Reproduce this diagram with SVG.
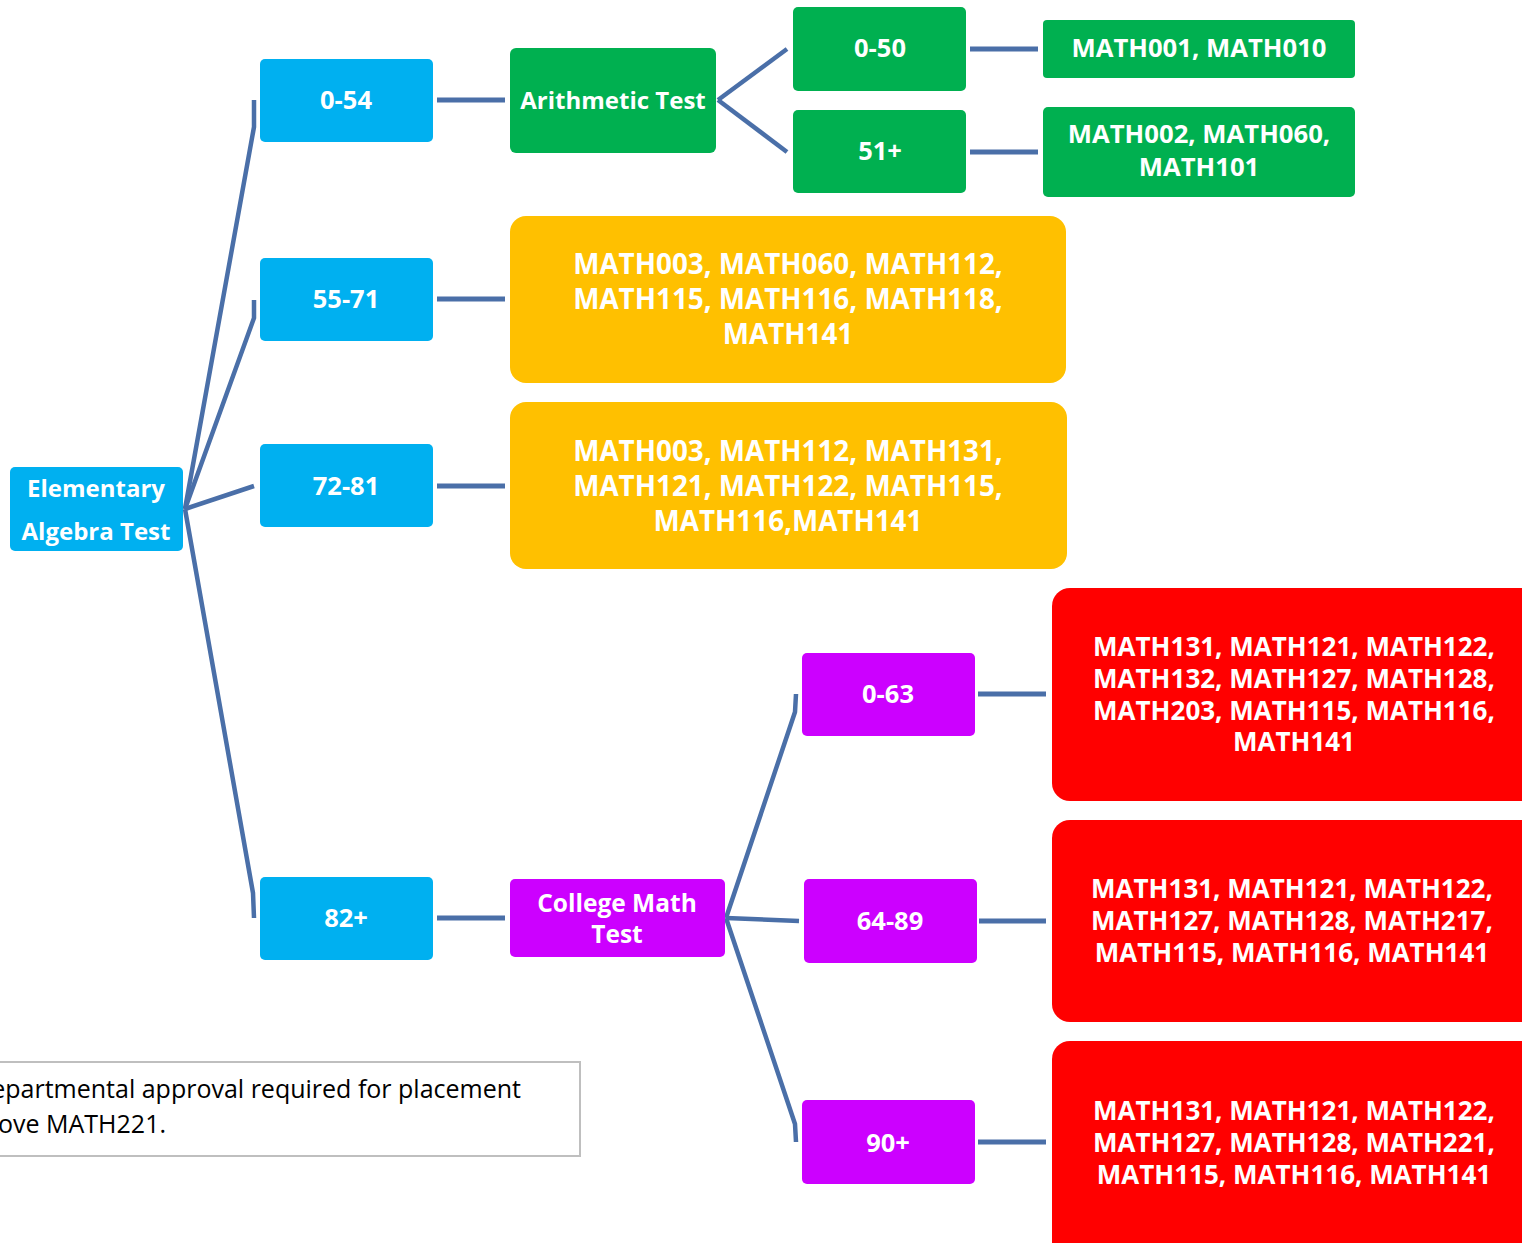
<svg xmlns="http://www.w3.org/2000/svg" width="1522" height="1243" viewBox="0 0 1522 1243">
<style>
.lbl{font-family:"Open Sans","Noto Sans","Liberation Sans",sans-serif;font-weight:bold;fill:#ffffff;text-anchor:middle}
.blue{fill:#00B0F0}
.green{fill:#00B050}
.yellow{fill:#FFC000}
.red{fill:#FF0000}
.purple{fill:#CC00FF}
.con{fill:none;stroke:#4A6FA8;stroke-width:4.5;stroke-linejoin:round}
.hcon{fill:none;stroke:#4A6FA8;stroke-width:5}
.note{font-family:"Open Sans","Noto Sans","Liberation Sans",sans-serif;font-size:25px;fill:#000000}
</style>
<rect width="1522" height="1243" fill="#ffffff"/>
<g id="connectors">
<polyline class="con" points="185,509 254,127 254,100"/>
<polyline class="con" points="185,509 254,318 254,300"/>
<polyline class="con" points="185,509 254,486"/>
<polyline class="con" points="185,509 253,893 254,918"/>
<polyline class="con" points="718,100 787,49"/>
<polyline class="con" points="718,100 787,152"/>
<polyline class="con" points="726,918 795,712 796,694"/>
<polyline class="con" points="726,918 799,921"/>
<polyline class="con" points="726,918 795,1124 796,1142"/>
<line class="hcon" x1="437" y1="100" x2="505" y2="100"/>
<line class="hcon" x1="437" y1="299" x2="505" y2="299"/>
<line class="hcon" x1="437" y1="486" x2="505" y2="486"/>
<line class="hcon" x1="437" y1="918" x2="505" y2="918"/>
<line class="hcon" x1="970" y1="49" x2="1038" y2="49"/>
<line class="hcon" x1="970" y1="152" x2="1038" y2="152"/>
<line class="hcon" x1="978" y1="694" x2="1046" y2="694"/>
<line class="hcon" x1="979" y1="921" x2="1046" y2="921"/>
<line class="hcon" x1="978" y1="1142" x2="1046" y2="1142"/>
</g>
<g id="elementary">
<rect class="blue" x="10" y="467" width="173" height="84" rx="5"/>
<text class="lbl" x="96" y="497" font-size="24">Elementary</text>
<text class="lbl" x="96" y="540" font-size="24">Algebra Test</text>
</g>
<g id="n0-54">
<rect class="blue" x="260" y="59" width="173" height="83" rx="5"/>
<text class="lbl" x="346" y="109" font-size="25.5">0-54</text>
</g>
<g id="n55-71">
<rect class="blue" x="260" y="258" width="173" height="83" rx="5"/>
<text class="lbl" x="346" y="308" font-size="25.5">55-71</text>
</g>
<g id="n72-81">
<rect class="blue" x="260" y="444" width="173" height="83" rx="5"/>
<text class="lbl" x="346" y="495" font-size="25.5">72-81</text>
</g>
<g id="n82plus">
<rect class="blue" x="260" y="877" width="173" height="83" rx="5"/>
<text class="lbl" x="346" y="927" font-size="25.5">82+</text>
</g>
<g id="arithmetic">
<rect class="green" x="510" y="48" width="206" height="105" rx="6"/>
<text class="lbl" x="613" y="109" font-size="24">Arithmetic Test</text>
</g>
<g id="a0-50">
<rect class="green" x="793" y="7" width="173" height="84" rx="5"/>
<text class="lbl" x="880" y="57" font-size="25.5">0-50</text>
</g>
<g id="a51plus">
<rect class="green" x="793" y="110" width="173" height="83" rx="5"/>
<text class="lbl" x="880" y="160" font-size="25.5">51+</text>
</g>
<g id="math001">
<rect class="green" x="1043" y="20" width="312" height="58" rx="4"/>
<text class="lbl" x="1199" y="57" font-size="25.7">MATH001, MATH010</text>
</g>
<g id="math002">
<rect class="green" x="1043" y="107" width="312" height="90" rx="5"/>
<text class="lbl" x="1199" y="143" font-size="25.7">MATH002, MATH060,</text>
<text class="lbl" x="1199" y="176" font-size="25.7">MATH101</text>
</g>
<g id="yellow1">
<rect class="yellow" x="510" y="216" width="556" height="167" rx="16"/>
<text class="lbl" x="788" y="274" font-size="27.8">MATH003, MATH060, MATH112,</text>
<text class="lbl" x="788" y="309" font-size="27.8">MATH115, MATH116, MATH118,</text>
<text class="lbl" x="788" y="344" font-size="27.8">MATH141</text>
</g>
<g id="yellow2">
<rect class="yellow" x="510" y="402" width="557" height="167" rx="16"/>
<text class="lbl" x="788" y="461" font-size="27.8">MATH003, MATH112, MATH131,</text>
<text class="lbl" x="788" y="496" font-size="27.8">MATH121, MATH122, MATH115,</text>
<text class="lbl" x="788" y="531" font-size="27.8">MATH116,MATH141</text>
</g>
<g id="college">
<rect class="purple" x="510" y="879" width="215" height="78" rx="5"/>
<text class="lbl" x="617" y="912" font-size="24.5">College Math</text>
<text class="lbl" x="617" y="943" font-size="24.5">Test</text>
</g>
<g id="c0-63">
<rect class="purple" x="802" y="653" width="173" height="83" rx="5"/>
<text class="lbl" x="888" y="703" font-size="25.5">0-63</text>
</g>
<g id="c64-89">
<rect class="purple" x="804" y="879" width="173" height="84" rx="5"/>
<text class="lbl" x="890" y="930" font-size="25.5">64-89</text>
</g>
<g id="c90plus">
<rect class="purple" x="802" y="1100" width="173" height="84" rx="5"/>
<text class="lbl" x="888" y="1152" font-size="25.5">90+</text>
</g>
<g id="red1">
<rect class="red" x="1052" y="588" width="490" height="213" rx="18"/>
<text class="lbl" x="1294" y="656" font-size="26">MATH131, MATH121, MATH122,</text>
<text class="lbl" x="1294" y="688" font-size="26">MATH132, MATH127, MATH128,</text>
<text class="lbl" x="1294" y="720" font-size="26">MATH203, MATH115, MATH116,</text>
<text class="lbl" x="1294" y="751" font-size="26">MATH141</text>
</g>
<g id="red2">
<rect class="red" x="1052" y="820" width="490" height="202" rx="18"/>
<text class="lbl" x="1292" y="898" font-size="26">MATH131, MATH121, MATH122,</text>
<text class="lbl" x="1292" y="930" font-size="26">MATH127, MATH128, MATH217,</text>
<text class="lbl" x="1292" y="962" font-size="26">MATH115, MATH116, MATH141</text>
</g>
<g id="red3">
<rect class="red" x="1052" y="1041" width="490" height="220" rx="18"/>
<text class="lbl" x="1294" y="1120" font-size="26">MATH131, MATH121, MATH122,</text>
<text class="lbl" x="1294" y="1152" font-size="26">MATH127, MATH128, MATH221,</text>
<text class="lbl" x="1294" y="1184" font-size="26">MATH115, MATH116, MATH141</text>
</g>
<g id="note">
<rect x="-10" y="1062" width="590" height="94" fill="#ffffff" stroke="#BFBFBF" stroke-width="2"/>
<text class="note" x="521" y="1098" text-anchor="end">Departmental approval required for placement</text>
<text class="note" x="166" y="1133" text-anchor="end">above MATH221.</text>
</g>
</svg>
